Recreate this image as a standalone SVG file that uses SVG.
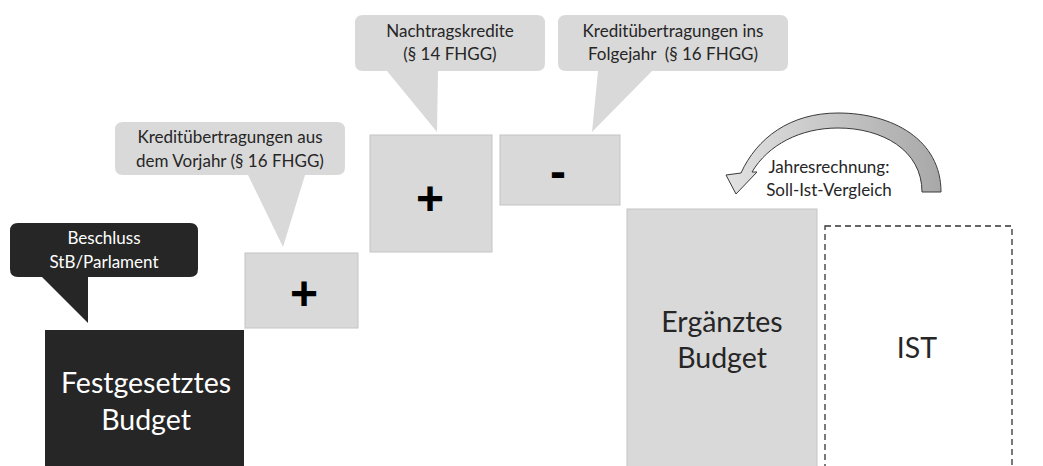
<svg xmlns="http://www.w3.org/2000/svg" width="1043" height="466" viewBox="0 0 1043 466">
<defs>
<style>
.t{font-family:Lato,"Open Sans","Liberation Sans",sans-serif;fill:#262626;text-anchor:middle}
.s{font-size:17px}
.b{font-size:28.5px}
.w{fill:#ffffff}
.call{fill:#d9d9d9}
.box{fill:#d9d9d9;stroke:#c4c4c4;stroke-width:1}
.sign{font-family:"Liberation Sans",Arial,sans-serif;font-weight:bold;font-size:48px;fill:#000;text-anchor:middle}
</style>
<linearGradient id="ag" x1="0" y1="0" x2="1" y2="0">
<stop offset="0" stop-color="#e2e2e2"/>
<stop offset="1" stop-color="#a8a8a8"/>
</linearGradient>
</defs>
<rect width="1043" height="466" fill="#ffffff"/>

<g id="beschluss">
<path d="M18,223 H190 Q198,223 198,231 V269 Q198,277 190,277 H88 L88,323 L42,277 H18 Q10,277 10,269 V231 Q10,223 18,223 Z" fill="#262626"/>
<text class="t s w" x="104" y="244">Beschluss</text>
<text class="t s w" x="104" y="268">StB/Parlament</text>
</g>

<g id="festgesetztes">
<rect x="45" y="330" width="199" height="136" fill="#262626"/>
<text class="t b w" x="146" y="393">Festgesetztes</text>
<text class="t b w" x="146" y="430">Budget</text>
</g>

<g id="callout-vorjahr">
<path class="call" d="M123,122 H337 Q345,122 345,130 V167 Q345,175 337,175 H305 L283,247 L248,175 H123 Q115,175 115,167 V130 Q115,122 123,122 Z"/>
<text class="t s" x="230" y="143">Kreditübertragungen aus</text>
<text class="t s" x="230" y="167">dem Vorjahr (§ 16 FHGG)</text>
</g>

<g id="plus1">
<rect class="box" x="245" y="253" width="113" height="75"/>
<text class="sign" x="304" y="310">+</text>
</g>

<g id="callout-nachtrag">
<path class="call" d="M363,15 H537 Q545,15 545,23 V63 Q545,71 537,71 H438 L437,132 L387,71 H363 Q355,71 355,63 V23 Q355,15 363,15 Z"/>
<text class="t s" x="450" y="37">Nachtragskredite</text>
<text class="t s" x="450" y="60">(§ 14 FHGG)</text>
</g>

<g id="plus2">
<rect class="box" x="370" y="135" width="122" height="117"/>
<text class="sign" x="430" y="215">+</text>
</g>

<g id="callout-folgejahr">
<path class="call" d="M566,15 H780 Q788,15 788,23 V63 Q788,71 780,71 H652 L592,132 L598,71 H566 Q558,71 558,63 V23 Q558,15 566,15 Z"/>
<text class="t s" x="673" y="37">Kreditübertragungen ins</text>
<text class="t s" x="673" y="60" xml:space="preserve">Folgejahr  (§ 16 FHGG)</text>
</g>

<g id="minus">
<rect class="box" x="500" y="135" width="120" height="70"/>
<text class="sign" x="558" y="188">-</text>
</g>

<g id="ergaenztes">
<rect class="box" x="627" y="209" width="190" height="260"/>
<text class="t b" x="722" y="332">Ergänztes</text>
<text class="t b" x="722" y="368">Budget</text>
</g>

<g id="ist">
<rect x="825" y="226" width="187" height="250" fill="#ffffff" stroke="#333333" stroke-width="1.3" stroke-dasharray="6,4"/>
<text class="t b" x="917" y="358">IST</text>
</g>

<g id="connectors">
<path d="M941,192 C941,140 893,113 838,113 C790,113 757,138 741,173 L726,175 L736,194 L757,172 L752,172 C768,145 800,128 838,128 C882,128 922,150 922,192 Z" fill="url(#ag)" stroke="#3a3a3a" stroke-width="1"/>
<text class="t s" x="829" y="173">Jahresrechnung:</text>
<text class="t s" x="829" y="196">Soll-Ist-Vergleich</text>
</g>
</svg>
